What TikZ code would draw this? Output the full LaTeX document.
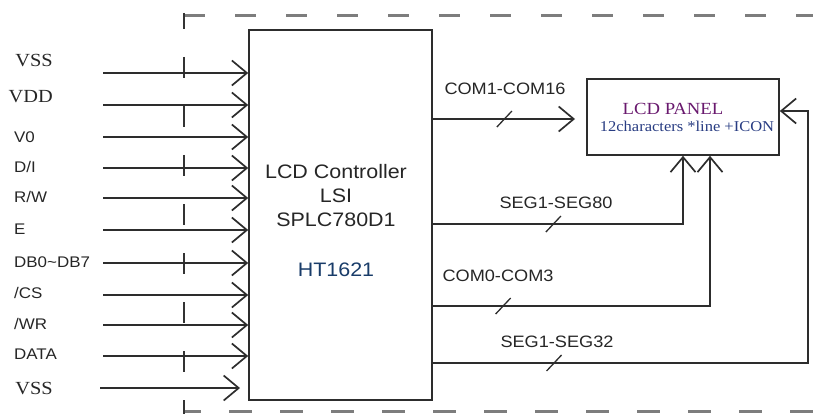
\documentclass[tikz,border=0pt]{standalone}
\usepackage{fontspec}
\newfontfamily\sansfnt[FakeStretch=1.1]{Liberation Sans}
\newfontfamily\seriffnt[FakeStretch=1.1]{Liberation Serif}
\usetikzlibrary{arrows.meta}
\definecolor{wirecol}{RGB}{45,45,45}
\definecolor{framecol}{RGB}{125,125,125}
\definecolor{panelpurple}{RGB}{105,25,110}
\definecolor{panelblue}{RGB}{40,60,130}
\definecolor{chipblue}{RGB}{25,60,105}

\begin{document}
\begin{tikzpicture}[
  x=1pt, y=-1pt,
  >={Straight Barb[length=15pt,width=25pt]},
  wire/.style={draw=wirecol, line width=1.7pt},
  box/.style={draw=wirecol, line width=1.6pt, rectangle, inner sep=0pt},
  pinlabel/.style={font=\sansfnt\fontsize{15.4}{18}\selectfont, anchor=west, inner sep=0pt, text height=11pt, text depth=0pt, text=black!85},
  supply/.style={font=\seriffnt\fontsize{18.5}{20}\selectfont, anchor=east, inner sep=0pt, text height=12pt, text depth=0pt, text=black!85},
  buslabel/.style={font=\sansfnt\fontsize{16.5}{18}\selectfont, inner sep=0pt, text=black!85}
]
\useasboundingbox (0,0) rectangle (813,414);

\draw[framecol, line width=3pt, dash pattern=on 21pt off 30pt] (184,16) -- (813,16);
\draw[framecol, line width=3pt, dash pattern=on 23pt off 28pt, dash phase=6pt] (184,411.5) -- (813,411.5);
\draw[black!80, line width=1.6pt, dash pattern=on 21pt off 28pt, dash phase=5pt] (184,13) -- (184,414);

\node[box, minimum width=183pt, minimum height=370pt] (ctrl) at (340.5,215) {};
\node[align=center, font=\sansfnt\fontsize{19.5}{24}\selectfont, text=black!85] (ctrlname) at (336,221)
  {LCD Controller\\LSI\\SPLC780D1\\[26pt]{\color{chipblue}HT1621}};

\node[box, minimum width=192pt, minimum height=76pt, align=center, font=\seriffnt\fontsize{17}{17}\selectfont] (panel) at (683,117)
  {{\color{panelpurple}LCD PANEL}\hspace*{20pt}\\\hspace*{8pt}{\fontsize{15}{17}\selectfont\color{panelblue}12characters *line +ICON}};

\foreach \y [count=\i] in {73,105,137,168,198,230,263,295,325,356}
  \draw[wire,->] (103,\y) coordinate (in\i) -- (in\i -| ctrl.west);
\coordinate (in11) at (100,388);
\coordinate (in11end) at (240,388);
\draw[wire,->] (in11) -- (in11end);

\node[supply] (lvss) at (53,61) {VSS};
\node[supply] (lvdd) at (53,97) {VDD};
\node[pinlabel] (lv0) at (14,137) {V0};
\node[pinlabel] (ldi) at (14,167) {D/I};
\node[pinlabel] (lrw) at (14,197) {R/W};
\node[pinlabel] (le) at (14,229) {E};
\node[pinlabel] (ldb) at (14,262) {DB0\textasciitilde DB7};
\node[pinlabel] (lcs) at (14,293) {/CS};
\node[pinlabel] (lwr) at (14,324) {/WR};
\node[pinlabel] (ldata) at (14,354) {DATA};
\node[supply] (lvssb) at (53,388) {VSS};

\coordinate (c16end) at (575,119);
\draw[wire,->] (ctrl.east |- c16end) -- coordinate[pos=0.5] (t1) (c16end);
\draw[wire,->] ([yshift=-9pt]ctrl.east) -| coordinate[pos=0.24] (t2) (panel.south);
\draw[wire,->] ([yshift=-91pt]ctrl.east) -| coordinate[pos=0.126] (t3) ([xshift=27pt]panel.south);
\draw[wire,->] ([yshift=-148pt]ctrl.east) -| coordinate[pos=0.161] (t4) ([xshift=28pt,yshift=6pt]panel.east) -- ([yshift=6pt]panel.east);
\foreach \t in {t1,t2,t3,t4}
  \draw[wirecol, line width=1.3pt] ([shift={(-7,8)}]\t) -- ([shift={(8,-8)}]\t);

\node[buslabel] (lc16) at (505,89) {COM1-COM16};
\node[buslabel] (ls80) at (556,203) {SEG1-SEG80};
\node[buslabel] (lc3) at (498,276) {COM0-COM3};
\node[buslabel] (ls32) at (557,342) {SEG1-SEG32};
\end{tikzpicture}
\end{document}
